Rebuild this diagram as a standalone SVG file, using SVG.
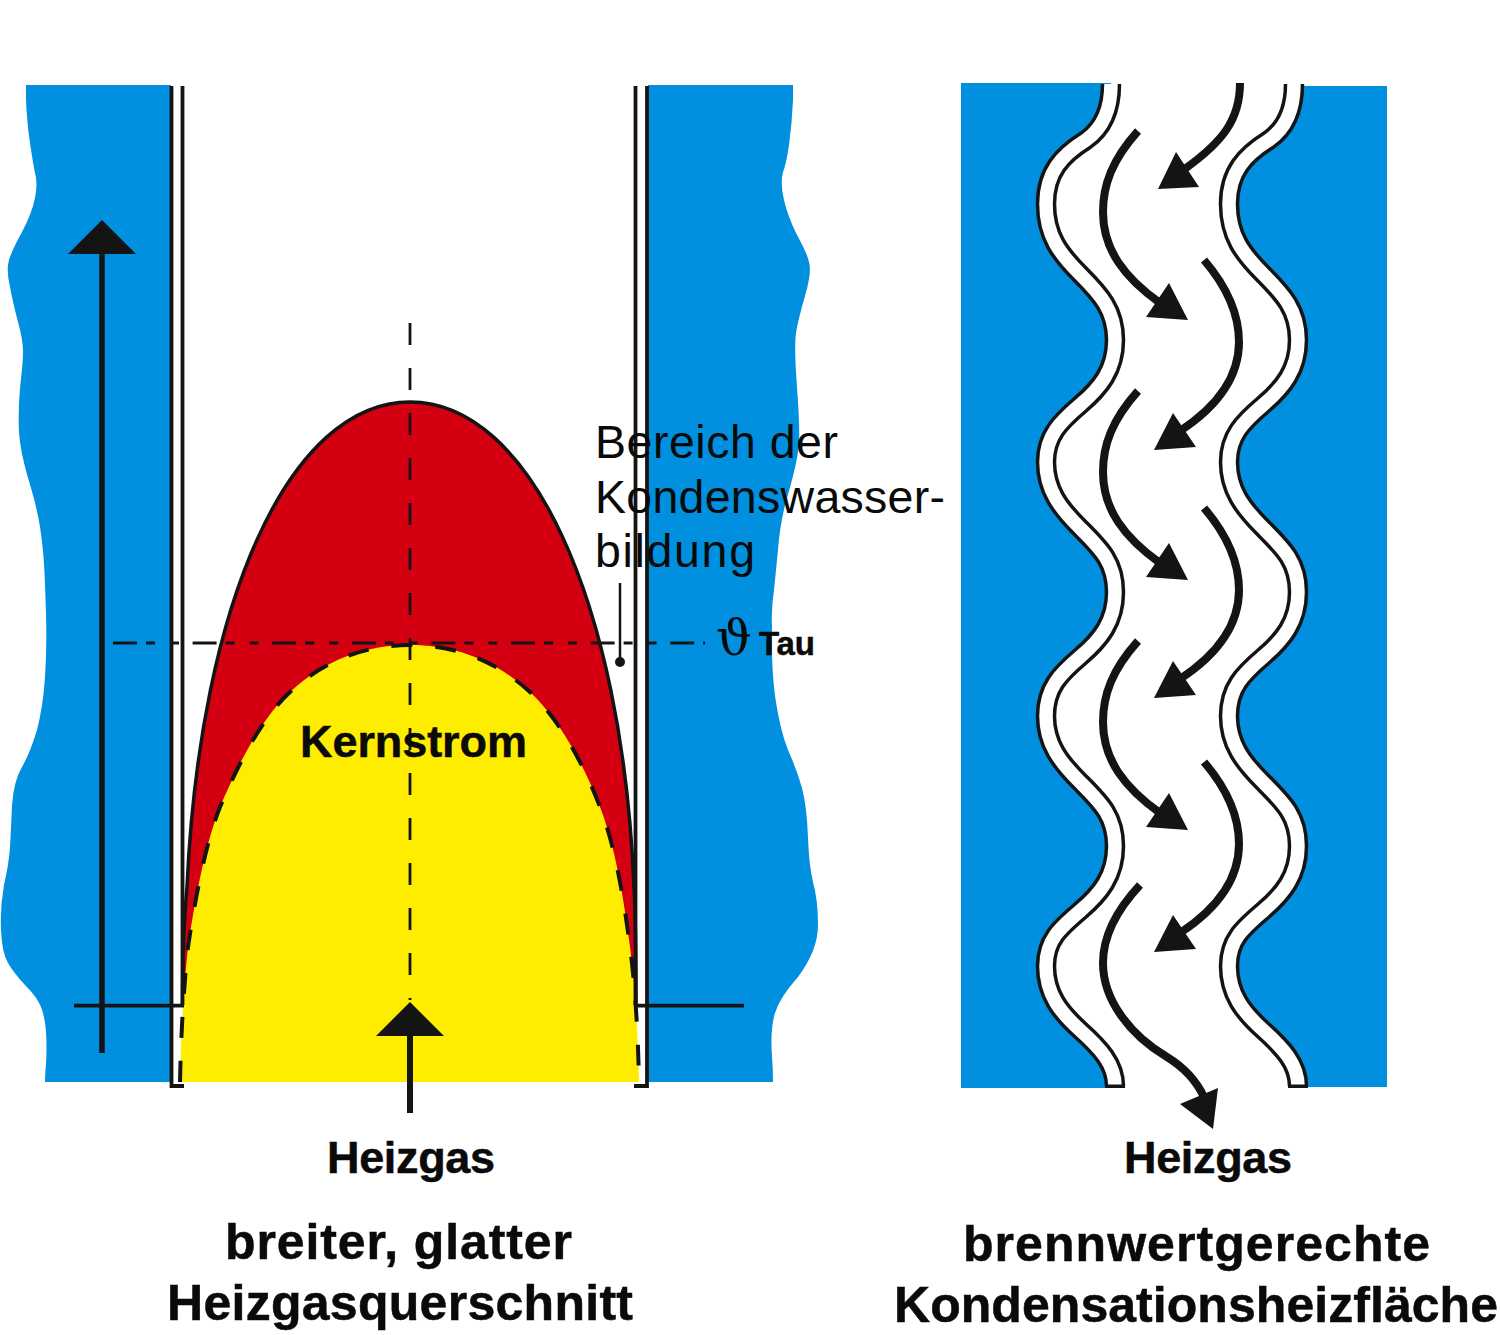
<svg xmlns="http://www.w3.org/2000/svg" width="1500" height="1335" viewBox="0 0 1500 1335">
<style>
.blue{fill:#0090df}
.ln{fill:none;stroke:#141414;stroke-linecap:butt}
.wall{stroke-width:3.8}
.flow{stroke-width:8;fill:none;stroke:#141414}
.hd{fill:#141414}
.waveb{fill:none;stroke:#141414;stroke-width:20.500}
.wavew{fill:none;stroke:#fff;stroke-width:13.500}
text{font-family:"Liberation Sans",Arial,sans-serif;fill:#0a0a0a}
.b{font-weight:700;stroke:#0a0a0a;stroke-width:.5}
.t50{font-size:50px}
.t45{font-size:45px}
.t46{font-size:46.500px}
</style>
<defs>
<path id="wave" d="M1111 84C1111 108 1103 128 1086 140C1062 155 1046 172 1046 204C1046 236 1060 254 1080 274C1100 294 1115 310 1115 340C1115 370 1100 388 1080 405C1060 422 1046 436 1046 462C1046 490 1060 508 1080 528C1100 548 1115 562 1115 592C1115 622 1100 640 1080 657C1060 674 1046 688 1046 716C1046 744 1060 762 1080 782C1100 802 1115 816 1115 846C1115 876 1100 894 1080 911C1060 928 1046 940 1046 966C1046 994 1060 1012 1080 1030C1100 1048 1115 1064 1115 1086"/>
<g id="arrA"><path class="flow" d="M1138 131C1112 160 1103 185 1103 212C1103 250 1125 278 1160 303"/><path class="hd" d="M1169 283L1188 320L1146 317Z"/></g>
<g id="arrB"><path class="flow" d="M1204 260C1228 288 1239 315 1239 342C1239 380 1215 408 1180 431"/><path class="hd" d="M1173 413L1196 447L1154 450Z"/></g>
</defs>
<g id="left-water">
<path class="blue" d="M26 85L26 100Q27 123 30 143Q33 163 35 173Q38 183 35 198Q32 213 22 232Q12 250 9 260Q6 270 10 287Q13 303 18 322Q23 340 23 352Q23 363 20 388Q18 413 19 432Q20 450 28 478Q37 507 40 527Q43 547 44 564Q45 580 46 614Q47 647 45 677Q43 707 37 730Q30 753 22 767Q14 780 12 805Q11 830 10 847Q9 863 4 885Q0 907 1 930Q2 953 8 963Q13 972 25 985Q37 997 41 1007Q45 1017 46 1032Q47 1047 46 1064Q45 1075 45 1082L171 1082L171 85Z"/>
</g>
<g id="right-water">
<path class="blue" d="M793 85L793 100Q792 123 789 145Q786 165 783 172Q780 183 784 200Q788 217 797 235Q807 253 809 262Q812 272 805 296Q798 320 796 333Q794 347 797 387Q800 427 799 445Q797 463 789 491Q780 520 778 550Q775 580 774 590Q771 610 772 626Q771 663 775 696Q780 730 788 750Q797 770 802 788Q807 807 808 838Q809 865 813 882Q818 900 818 925Q818 950 798 977Q780 997 775 1013Q770 1030 772 1056Q773 1070 773 1082L648 1082L648 85Z"/>
</g>
<g id="profile">
<path fill="#d40011" stroke="#141414" stroke-width="3.500" d="M182.500 1005C182.500 965 183.500 925 187 887C200 600 290 402 410 402C530 402 622 600 634 887C636 925 636 965 636 1005Z"/>
<path fill="#ffed00" d="M180 1082C181 1030 184 985 188 947C195 900 205 845 220 807C238 765 260 720 290 692C325 660 365 645 410 645C455 645 495 660 530 692C560 720 584 765 600 807C615 845 624 900 630 947C635 985 638 1030 639 1082Z"/>
<path class="ln" stroke-width="4" stroke-dasharray="21 23" d="M180 1082C181 1030 184 985 188 947C195 900 205 845 220 807C238 765 260 720 290 692C325 660 365 645 410 645C455 645 495 660 530 692C560 720 584 765 600 807C615 845 624 900 630 947C635 985 638 1030 639 1082"/>
</g>
<g id="left-tube">
<path class="ln wall" d="M171.500 86V1086H184"/>
<path class="ln wall" d="M182.500 86V1005"/>
<path class="ln wall" d="M647 86V1086H634"/>
<path class="ln wall" d="M635.500 86V1005"/>
</g>
<g id="right-water-2">
<path class="blue" d="M961 83L1111 83L1111 84C1111 108 1103 128 1086 140C1062 155 1046 172 1046 204C1046 236 1060 254 1080 274C1100 294 1115 310 1115 340C1115 370 1100 388 1080 405C1060 422 1046 436 1046 462C1046 490 1060 508 1080 528C1100 548 1115 562 1115 592C1115 622 1100 640 1080 657C1060 674 1046 688 1046 716C1046 744 1060 762 1080 782C1100 802 1115 816 1115 846C1115 876 1100 894 1080 911C1060 928 1046 940 1046 966C1046 994 1060 1012 1080 1030C1100 1048 1115 1064 1115 1088L961 1088Z"/>
<path class="blue" transform="translate(183 0)" d="M1204 86L1111 86C1111 108 1103 128 1086 140C1062 155 1046 172 1046 204C1046 236 1060 254 1080 274C1100 294 1115 310 1115 340C1115 370 1100 388 1080 405C1060 422 1046 436 1046 462C1046 490 1060 508 1080 528C1100 548 1115 562 1115 592C1115 622 1100 640 1080 657C1060 674 1046 688 1046 716C1046 744 1060 762 1080 782C1100 802 1115 816 1115 846C1115 876 1100 894 1080 911C1060 928 1046 940 1046 966C1046 994 1060 1012 1080 1030C1100 1048 1115 1064 1115 1087L1204 1087Z"/>
</g>
<g id="wave-walls">
<use href="#wave" class="waveb"/>
<use href="#wave" class="wavew"/>
<use href="#wave" class="waveb" transform="translate(183 0)"/>
<use href="#wave" class="wavew" transform="translate(183 0)"/>
<path fill="#141414" d="M1105 1084.500H1125V1088H1105ZM1288 1084.500H1308V1088H1288Z"/>
</g>
<g id="connectors">
<path class="flow" d="M1240 83C1240 120 1222 142 1186 168"/><path class="hd" d="M1176 152L1199 187L1158 189Z"/>
<use href="#arrA"/>
<use href="#arrB"/>
<use href="#arrA" y="260"/>
<use href="#arrB" y="248"/>
<use href="#arrA" y="510"/>
<use href="#arrB" y="502"/>
<path class="flow" d="M1140 885C1112 915 1103 940 1103 963C1103 1000 1130 1035 1167 1057C1185 1068 1196 1080 1204 1097"/><path class="hd" d="M1218 1088L1213 1129L1180 1104Z"/>
<path class="ln" stroke-width="5.500" d="M102 1053V250"/><path class="hd" d="M102 220L136 254H68Z"/>
<path class="ln" stroke-width="6" d="M410 1113V1034"/><path class="hd" d="M410 1002L444 1036H376Z"/>
<path class="ln" stroke-width="3.800" d="M74 1005.700H184M637 1005.700H744"/>
<path class="ln" stroke-width="2.800" stroke-dasharray="22 23" d="M410 323V1000"/>
<path class="ln" stroke-width="3" stroke-dasharray="24 9 9 15 9 13.600" d="M113 643H705"/>
<path class="ln" stroke-width="2.500" d="M620 583V660"/><circle class="hd" cx="620" cy="662" r="5"/>
</g>
<g id="labels">
<text class="t46" x="595" y="458" textLength="243">Bereich der</text>
<text class="t46" x="595" y="513" textLength="350">Kondenswasser-</text>
<text class="t46" x="595" y="567" textLength="160">bildung</text>
<text x="716" y="655" font-size="50" style="font-family:'DejaVu Serif','Liberation Serif',serif">ϑ</text>
<text class="b" x="759" y="655" font-size="33" textLength="56">Tau</text>
<text class="b t45" x="300" y="757" textLength="227">Kernstrom</text>
<text class="b t45" x="327" y="1173" textLength="168">Heizgas</text>
<text class="b t45" x="1124" y="1173" textLength="168">Heizgas</text>
<text class="b t50" x="225" y="1259" textLength="347">breiter, glatter</text>
<text class="b t50" x="167" y="1320" textLength="466">Heizgasquerschnitt</text>
<text class="b t50" x="963" y="1261" textLength="467">brennwertgerechte</text>
<text class="b t50" x="894" y="1322" textLength="604">Kondensationsheizfläche</text>
</g>
</svg>
